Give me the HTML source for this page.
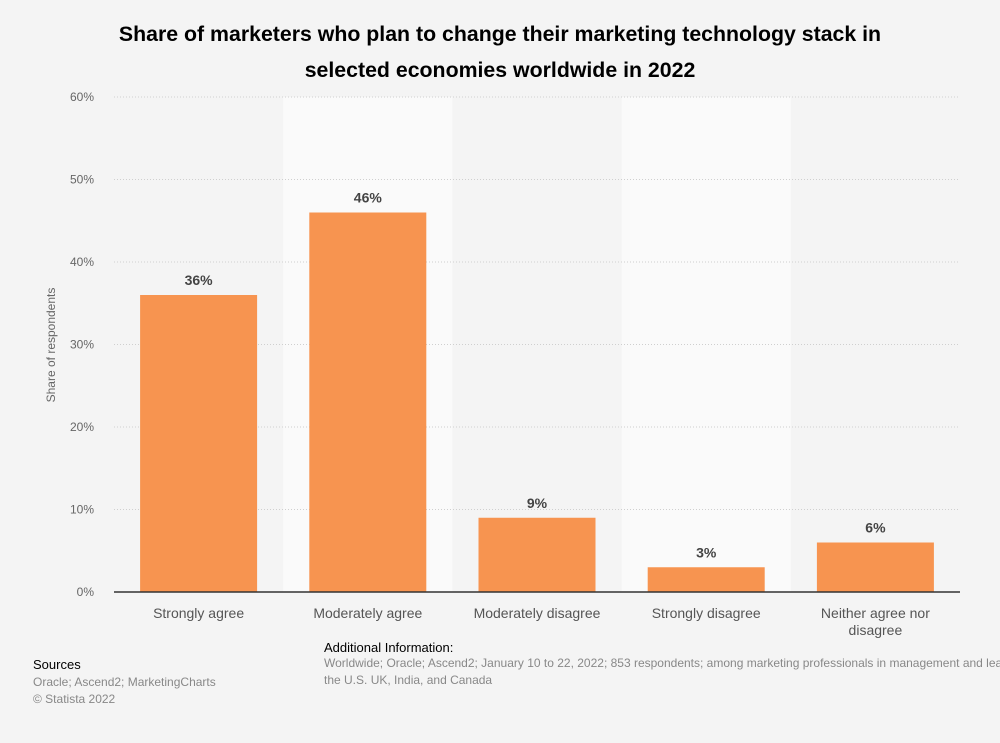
<!DOCTYPE html>
<html><head><meta charset="utf-8"><style>
body{margin:0;background:#f4f4f4;font-family:"Liberation Sans",sans-serif;}
svg{display:block}
</style></head><body>
<svg width="1000" height="743" id="c">
<text x="500" y="41" text-anchor="middle" font-size="21.3" font-weight="bold" fill="#000">Share of marketers who plan to change their marketing technology stack in</text>
<text x="500" y="77" text-anchor="middle" font-size="21.3" font-weight="bold" fill="#000">selected economies worldwide in 2022</text>
<text transform="translate(55,345) rotate(-90)" text-anchor="middle" font-size="12" fill="#666">Share of respondents</text>
<g id="g"></g>
<text x="33" y="669" font-size="13" fill="#000">Sources</text>
<text x="33" y="686" font-size="12" fill="#888">Oracle; Ascend2; MarketingCharts</text>
<text x="33" y="703" font-size="12" fill="#888">© Statista 2022</text>
<text x="324" y="652" font-size="13" fill="#000">Additional Information:</text>
<text x="324" y="667" font-size="12" fill="#888">Worldwide; Oracle; Ascend2; January 10 to 22, 2022; 853 respondents; among marketing professionals in management and lead</text>
<text x="324" y="684" font-size="12" fill="#888">the U.S. UK, India, and Canada</text>
</svg>
<script>
const categories=[["Strongly agree"],["Moderately agree"],["Moderately disagree"],["Strongly disagree"],["Neither agree nor","disagree"]];
const values=[36,46,9,3,6];
const ticks=[0,10,20,30,40,50,60];
const ns="http://www.w3.org/2000/svg";
const g=document.getElementById('g');
const x0=114,x1=960,y0=592,yTop=97,maxV=60;
const cw=(x1-x0)/categories.length,bw=117;
const y=v=>y0-(v/maxV)*(y0-yTop);
const xc=i=>x0+cw*(i+0.5);
function el(t,a){const e=document.createElementNS(ns,t);for(const k in a)e.setAttribute(k,a[k]);g.appendChild(e);return e;}
categories.forEach((c,i)=>{if(i%2==1){const r=el('rect',{x:x0+cw*i,y:yTop,width:cw,height:y0-yTop,fill:'#fafafa'});

}});
ticks.forEach(t=>{
 if(t>0){const l=el('line',{x1:x0,x2:x1,y1:y(t),y2:y(t),stroke:'#cfcfcf','stroke-dasharray':'1,2'});
 
 }
 const tx=el('text',{x:94,y:y(t)+4,'text-anchor':'end','font-size':12,fill:'#666'});tx.textContent=t+'%';
 
 
});
values.forEach((v,i)=>{
 const r=el('rect',{x:xc(i)-bw/2,y:y(v),width:bw,height:y0-y(v),fill:'#f79450'});
 
 
 const t=el('text',{x:xc(i),y:y(v)-10,'text-anchor':'middle','font-size':14,'font-weight':'bold',fill:'#444'});t.textContent=v+'%';
 
 
 categories[i].forEach((s,j)=>{const c=el('text',{x:xc(i),y:618+j*17,'text-anchor':'middle','font-size':14,fill:'#555'});c.textContent=s;
 
 });
});
const ax=el('line',{x1:x0,x2:x1,y1:y0,y2:y0,stroke:'#333','stroke-width':1.5});


</script>
</body></html>
